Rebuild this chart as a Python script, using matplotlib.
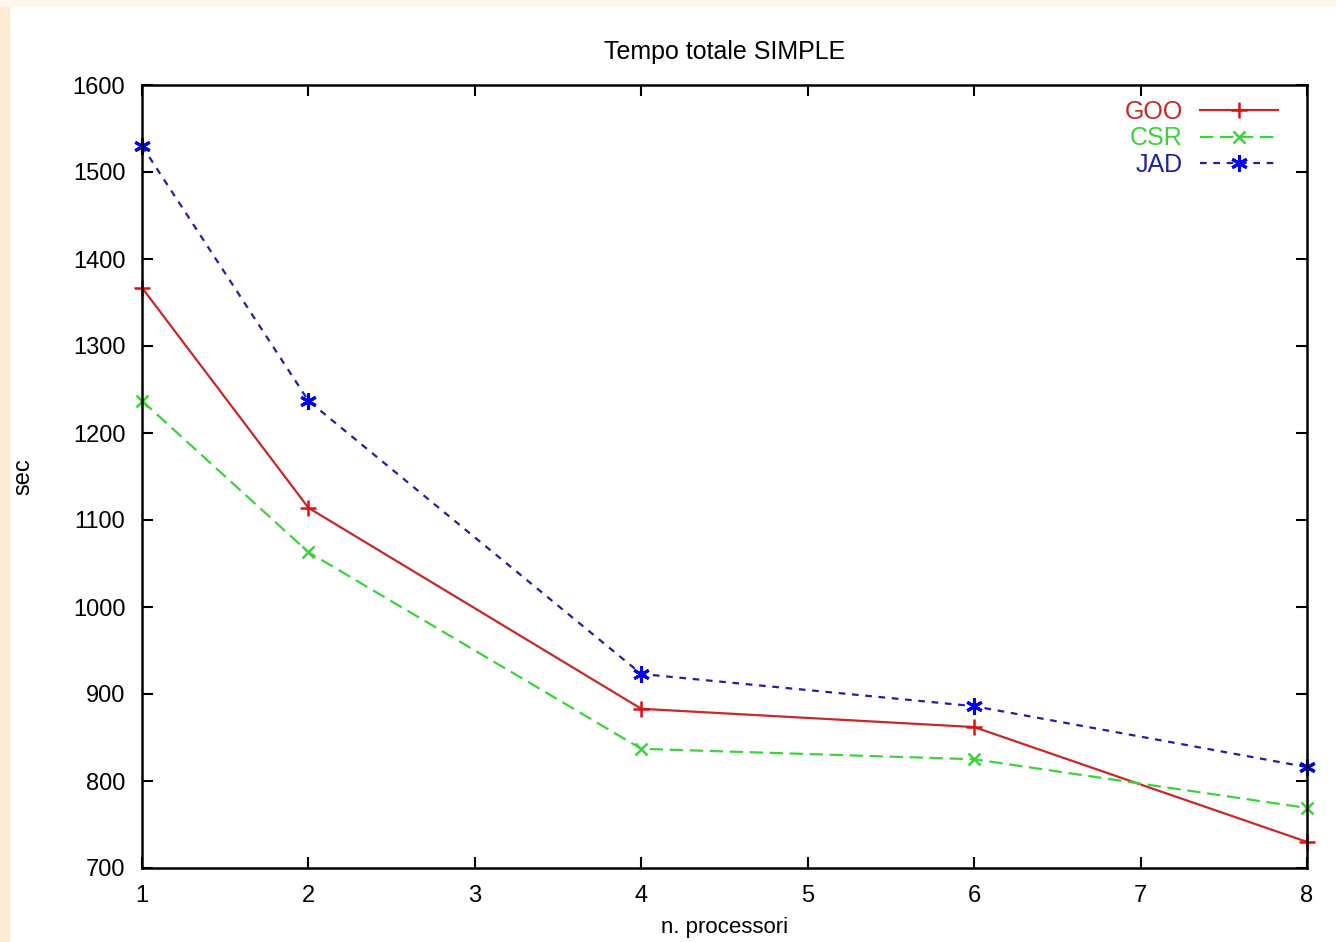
import numpy as np
import matplotlib.pyplot as plt
from matplotlib.patches import Rectangle

# data
procs = [1, 2, 4, 6, 8]
goo = [1367, 1114, 883, 862, 730]
csr = [1237, 1063, 837, 825, 769]
jad = [1530, 1237, 923, 886, 816]

plt.rcParams['font.family'] = ['Liberation Sans', 'DejaVu Sans']

fig = plt.figure(figsize=(13.36, 9.42), dpi=100)
# peach page border (left and top)
fig.patches.append(Rectangle((0, 0), 9 / 1336, 1, transform=fig.transFigure,
                             color='#fdebd3', zorder=0))
fig.patches.append(Rectangle((0, 1 - 6 / 942), 1, 6 / 942, transform=fig.transFigure,
                             color='#fdf6ea', zorder=0))

ax = fig.add_axes([142 / 1336, 74 / 942, 1165 / 1336, 783 / 942])

ax.plot(procs, goo, color='#c82828', lw=1.6, ls='-', marker='+', ms=12, mew=1.8,
        mec='#e01010', label='GOO', clip_on=False)
ax.plot(procs, csr, color='#3cd23c', lw=1.6, ls=(0, (6, 3)), marker='x', ms=9, mew=1.8,
        label='CSR', clip_on=False)
ax.plot(procs, jad, color='#2020a0', lw=1.6, ls=(0, (3, 3)), marker=(6, 2, 0), ms=12, mew=2.2,
        mec='#0000ee', label='JAD', clip_on=False)

ax.set_xlim(1, 8)
ax.set_ylim(700, 1600)
ax.set_xticks(range(1, 9))
ax.set_yticks(range(700, 1601, 100))
ax.tick_params(direction='in', top=True, right=True, length=8, width=1.5,
               labelsize=17, pad=12)
for s in ax.spines.values():
    s.set_linewidth(1.8)

ax.set_title('Tempo totale SIMPLE', fontsize=18, pad=19)
ax.set_xlabel('n. processori', fontsize=16)
ax.set_ylabel('sec', fontsize=17)
ax.xaxis.set_label_coords(0.5, -0.063)
ax.yaxis.set_label_coords(-0.092, 0.5)

ax.legend(loc='upper right', bbox_to_anchor=(0.975, 0.981), frameon=False,
          markerfirst=False, labelcolor='linecolor', fontsize=18,
          handlelength=3.1, handletextpad=0.7, labelspacing=0.1,
          borderaxespad=0, borderpad=0)

fig.savefig('out.png', dpi=100)
